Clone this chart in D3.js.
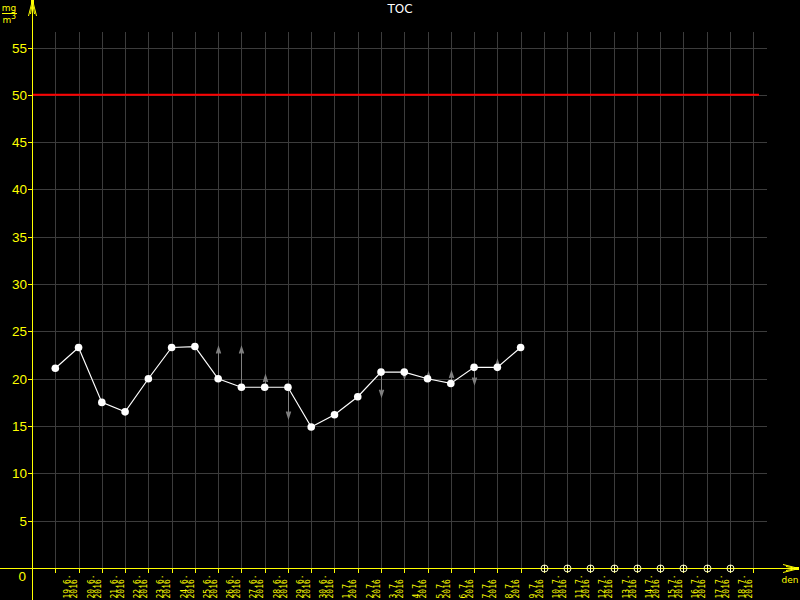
<!DOCTYPE html>
<html><head><meta charset="utf-8">
<script src="https://cdn.jsdelivr.net/npm/d3@7"></script>
<style>html,body{margin:0;padding:0;background:#000;}svg{display:block;}</style>
</head><body>
<svg id="c" width="800" height="600"></svg>
<script>
const title = "TOC";
const dates = ["19.6.","20.6.","21.6.","22.6.","23.6.","24.6.","25.6.","26.6.","27.6.","28.6.","29.6.","30.6.",
  "1.7.","2.7.","3.7.","4.7.","5.7.","6.7.","7.7.","8.7.","9.7.","10.7.","11.7.","12.7.","13.7.","14.7.","15.7.","16.7.","17.7.","18.7."];
const year = "2016";
const values = [21.1,23.3,17.5,16.5,20.0,23.3,23.4,20.0,19.1,19.1,19.1,14.9,16.2,18.1,20.7,20.7,20.0,19.5,21.2,21.2,23.3];
const arrowTo = [null,null,null,null,null,null,null,23.3,23.3,20.3,15.9,null,null,null,18.2,20.1,20.6,20.7,19.5,21.9,null];
const limit = 50;
const yTicks = [0,5,10,15,20,25,30,35,40,45,50,55];

const svg = d3.select("#c");
const yellow = "#ffff00", grid = "#3c3c3c";
const x = d3.scaleLinear().domain([0, dates.length - 1]).range([55.3, 730]);
const y = d3.scaleLinear().domain([0, 55]).range([568, 47.5]);
const x0 = 32, y0 = 568;
const idx = d3.range(dates.length + 1);

// grid
svg.append("g").selectAll("line").data(idx).join("line")
  .attr("x1", d => Math.round(x(d)) + 0.5).attr("x2", d => Math.round(x(d)) + 0.5)
  .attr("y1", 32).attr("y2", y0).attr("stroke", grid).attr("stroke-width", 1);
svg.append("g").selectAll("line").data(yTicks.slice(1)).join("line")
  .attr("x1", x0).attr("x2", 767)
  .attr("y1", d => Math.round(y(d)) + 0.5).attr("y2", d => Math.round(y(d)) + 0.5)
  .attr("stroke", grid).attr("stroke-width", 1);

// limit line
svg.append("line").attr("x1", x0).attr("x2", 759).attr("y1", y(limit)).attr("y2", y(limit))
  .attr("stroke", "#ff0000").attr("stroke-width", 2);

// axes
svg.append("line").attr("x1", x0 + 0.5).attr("x2", x0 + 0.5).attr("y1", 0).attr("y2", 600).attr("stroke", yellow);
svg.append("line").attr("x1", 0).attr("x2", 798).attr("y1", y0 + 0.5).attr("y2", y0 + 0.5).attr("stroke", yellow);
// arrows on axes
const ya = svg.append("g").attr("stroke", yellow).attr("fill", "none");
[[32.5,0,28.5,16],[32.5,0,36.5,16],[32.5,2,30.5,14],[32.5,2,34.5,14]].forEach(l =>
  ya.append("line").attr("x1", l[0]).attr("y1", l[1]).attr("x2", l[2]).attr("y2", l[3]));
ya.append("rect").attr("x", 31).attr("y", 0).attr("width", 3).attr("height", 4).attr("fill", yellow).attr("stroke", "none");
[[799,568.5,783,564.5],[799,568.5,783,572.5],[797,568.5,786,566.5],[797,568.5,786,570.5]].forEach(l =>
  ya.append("line").attr("x1", l[0]).attr("y1", l[1]).attr("x2", l[2]).attr("y2", l[3]));
ya.append("rect").attr("x", 794).attr("y", 567).attr("width", 5).attr("height", 3).attr("fill", yellow).attr("stroke", "none");

// y ticks & labels
svg.append("g").selectAll("line").data(yTicks.slice(1)).join("line")
  .attr("x1", 28).attr("x2", x0).attr("y1", d => Math.round(y(d)) + 0.5).attr("y2", d => Math.round(y(d)) + 0.5)
  .attr("stroke", yellow);
svg.append("g").selectAll("text").data(yTicks).join("text")
  .attr("x", d => d === 0 ? 26 : 27).attr("y", d => d === 0 ? y(d) + 13 : y(d) + 5)
  .attr("text-anchor", "end").attr("fill", yellow)
  .attr("font-family", "Liberation Sans, sans-serif").attr("font-size", 13.5)
  .text(d => d);

// x ticks & labels
svg.append("g").selectAll("line").data(idx).join("line")
  .attr("x1", d => Math.round(x(d)) + 0.5).attr("x2", d => Math.round(x(d)) + 0.5)
  .attr("y1", y0).attr("y2", y0 + 5).attr("stroke", yellow);
const xl = svg.append("g").attr("fill", yellow).attr("font-family", "DejaVu Sans Mono, monospace")
  .attr("font-size", 8);
dates.forEach((d, i) => {
  const g = xl.append("g").attr("transform", `translate(${x(i)},598.5) rotate(-90)`);
  g.append("text").attr("x", 0).attr("y", 15).text(d);
  g.append("text").attr("x", 0).attr("y", 22).text(year);
});
svg.append("text").attr("x", 790).attr("y", 583).attr("text-anchor", "middle").attr("fill", yellow)
  .attr("font-family", "DejaVu Sans, sans-serif").attr("font-size", 9).text("den");

// unit label
const ul = svg.append("g").attr("fill", yellow).attr("font-family", "DejaVu Sans, sans-serif");
ul.append("text").attr("x", 9).attr("y", 11).attr("text-anchor", "middle").attr("font-size", 9).text("mg");
ul.append("line").attr("x1", 2).attr("x2", 17).attr("y1", 13.5).attr("y2", 13.5).attr("stroke", yellow);
ul.append("text").attr("x", 7).attr("y", 23).attr("text-anchor", "middle").attr("font-size", 9).text("m");
ul.append("text").attr("x", 13.5).attr("y", 19).attr("text-anchor", "middle").attr("font-size", 8).text("3");

// title
svg.append("text").attr("x", 400).attr("y", 13).attr("text-anchor", "middle").attr("fill", "#ffffff")
  .attr("font-family", "DejaVu Sans, sans-serif").attr("font-size", 12).text(title);

// gray range arrows
const ag = svg.append("g").attr("stroke", "#808080").attr("fill", "none");
arrowTo.forEach((t, i) => {
  if (t == null) return;
  const xi = Math.round(x(i)) + 0.5, y1 = y(values[i]), y2 = y(t);
  const dir = y2 < y1 ? 1 : -1;
  ag.append("line").attr("x1", xi).attr("x2", xi).attr("y1", y1).attr("y2", y2);
  ag.append("path").attr("d", `M${xi - 2},${y2 + dir * 6}L${xi},${y2}L${xi + 2},${y2 + dir * 6}M${xi},${y2}L${xi},${y2 + dir * 6}`)
    .attr("stroke-width", 1.5);
});

// line and points
svg.append("path").datum(values)
  .attr("d", d3.line().x((d, i) => x(i)).y(d => y(d)))
  .attr("stroke", "#ffffff").attr("fill", "none").attr("stroke-width", 1.2);
svg.append("g").selectAll("circle").data(values).join("circle")
  .attr("cx", (d, i) => x(i)).attr("cy", d => y(d)).attr("r", 3.8).attr("fill", "#ffffff");

// empty days markers
const empty = d3.range(values.length, dates.length);
const em = svg.append("g").attr("stroke", "#ffffc8").attr("fill", "none");
empty.forEach(i => {
  const xi = Math.round(x(i)) + 0.5;
  em.append("circle").attr("cx", xi).attr("cy", y0 + 0.5).attr("r", 3.5);
  em.append("line").attr("x1", xi).attr("x2", xi).attr("y1", y0 - 3).attr("y2", y0 + 4);
});
</script>
</body></html>
